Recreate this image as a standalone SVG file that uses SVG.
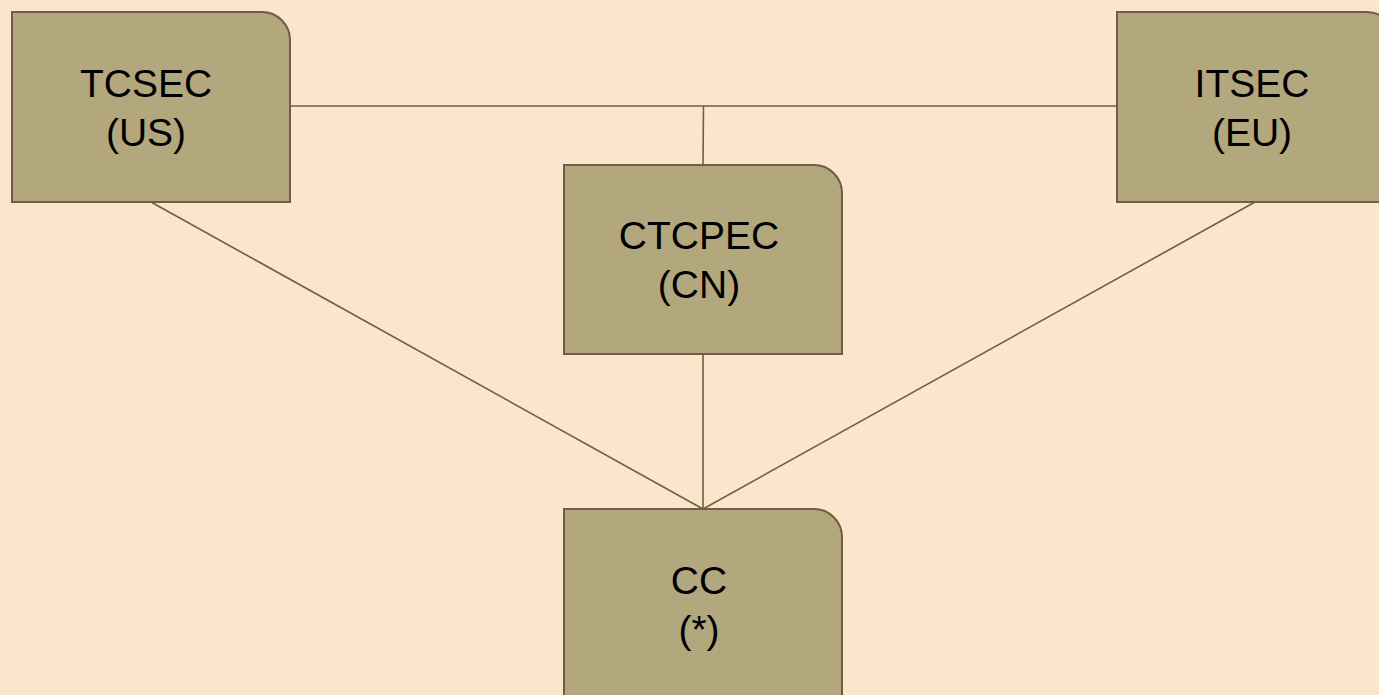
<svg xmlns="http://www.w3.org/2000/svg" width="1379" height="695" viewBox="0 0 1379 695">
<style>
.box{fill:#b3a77d;stroke:#6e5e42;stroke-width:2}
.conn{stroke:#6e5e42;stroke-width:1.6;fill:none}
.lbl{font-family:"Liberation Sans",Arial,sans-serif;font-size:39px;fill:#000;text-anchor:middle}
</style>
<rect x="0" y="0" width="1379" height="695" fill="#fce5cd"/>
<g id="connectors">
<line class="conn" x1="290" y1="106" x2="1117" y2="106"/>
<line class="conn" x1="703.5" y1="106" x2="703" y2="165"/>
<line class="conn" x1="151" y1="202" x2="703" y2="509"/>
<line class="conn" x1="1255" y1="202" x2="703" y2="509"/>
<line class="conn" x1="703" y1="354" x2="703" y2="509"/>
</g>
<g id="tcsec">
<path class="box" d="M12,12 H262 A28,28 0 0 1 290,40 V202 H12 Z"/>
<text class="lbl" x="146" y="97">TCSEC</text>
<text class="lbl" x="146" y="146">(US)</text>
</g>
<g id="itsec">
<path class="box" d="M1117,12 H1367 A28,28 0 0 1 1395,40 V202 H1117 Z"/>
<text class="lbl" x="1252" y="97">ITSEC</text>
<text class="lbl" x="1252" y="146">(EU)</text>
</g>
<g id="ctcpec">
<path class="box" d="M564,165 H814 A28,28 0 0 1 842,193 V354 H564 Z"/>
<text class="lbl" x="699" y="249">CTCPEC</text>
<text class="lbl" x="699" y="298">(CN)</text>
</g>
<g id="cc">
<path class="box" d="M564,509 H814 A28,28 0 0 1 842,537 V699 H564 Z"/>
<text class="lbl" x="699" y="594">CC</text>
<text class="lbl" x="699" y="643">(*)</text>
</g>
</svg>
